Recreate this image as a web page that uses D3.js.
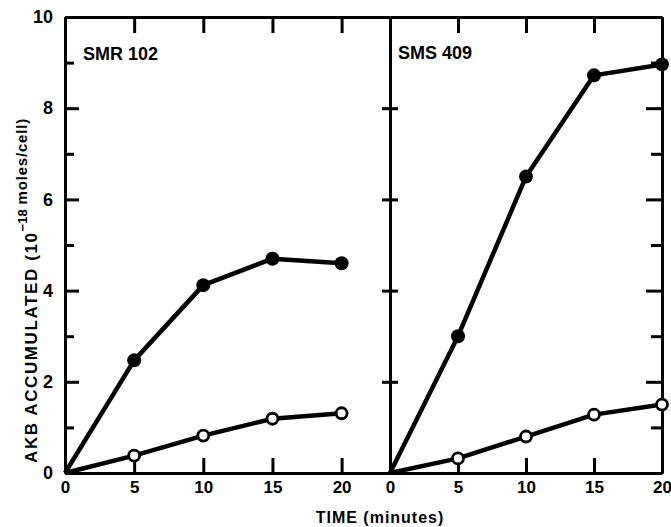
<!DOCTYPE html>
<html>
<head>
<meta charset="utf-8">
<script src="https://cdn.jsdelivr.net/npm/d3@7"></script>
<style>
  body { margin: 0; background: #fff; }
  text { font-family: "Liberation Sans", Arial, sans-serif; font-weight: bold; fill: #000; }
</style>
</head>
<body>
<script>
// data
const times = [0, 5, 10, 15, 20]
const smrFilled = [0, 2.47, 4.12, 4.7, 4.6]
const smrOpen = [0, 0.38, 0.82, 1.19, 1.31]
const smsFilled = [0, 3.0, 6.5, 8.72, 8.96]
const smsOpen = [0, 0.32, 0.8, 1.28, 1.5]
const yMajor = [0, 2, 4, 6, 8, 10]
const yMinor = [1, 3, 5, 7, 9]
const xTicks = [0, 5, 10, 15, 20]

const width = 671
const height = 527

const svg = d3.select('body')
    .append('svg')
    .attr('width', width)
    .attr('height', height)

const y = d3.scaleLinear()
    .domain([0, 10])
    .range([473, 17])

const xL = d3.scaleLinear()
    .domain([0, 23.5])
    .range([65, 390])

const xR = d3.scaleLinear()
    .domain([0, 20])
    .range([390, 662])

function styleAxis(g, size) {
    g.select('.domain').attr('stroke', '#000').attr('stroke-width', 3)
    g.selectAll('.tick line').attr('stroke', '#000').attr('stroke-width', 3)
    g.selectAll('.tick text')
        .style('font-size', (size || 17) + 'px')
        .attr('fill', '#000')
}

// ---- left panel frame ----
svg.append('g')
    .attr('transform', 'translate(65,0)')
    .call(d3.axisLeft(y).tickValues(yMajor).tickSizeInner(-14).tickSizeOuter(0).tickPadding(12).tickFormat(d3.format('d')))
    .call(g => styleAxis(g, 18))

svg.append('g')
    .attr('transform', 'translate(65,0)')
    .call(d3.axisLeft(y).tickValues(yMinor).tickSizeInner(-9).tickSizeOuter(0).tickFormat(''))
    .call(g => styleAxis(g))

svg.append('g')
    .attr('transform', 'translate(0,473)')
    .call(d3.axisBottom(xL).tickValues(xTicks).tickSizeInner(-15).tickSizeOuter(0).tickPadding(8).tickFormat(d3.format('d')))
    .call(g => styleAxis(g))

svg.append('g')
    .attr('transform', 'translate(0,17)')
    .call(d3.axisTop(xL).tickValues([5, 10, 15, 20]).tickSizeInner(-16).tickSizeOuter(0).tickFormat(''))
    .call(g => styleAxis(g))

// ---- right panel frame ----
svg.append('g')
    .attr('transform', 'translate(0,473)')
    .call(d3.axisBottom(xR).tickValues(xTicks).tickSizeInner(-15).tickSizeOuter(0).tickPadding(8).tickFormat(d3.format('d')))
    .call(g => styleAxis(g))

svg.append('g')
    .attr('transform', 'translate(0,17)')
    .call(d3.axisTop(xR).tickValues([5, 10, 15]).tickSizeInner(-16).tickSizeOuter(0).tickFormat(''))
    .call(g => styleAxis(g))

// shared divider: ticks cross both ways
svg.append('g')
    .attr('transform', 'translate(390,0)')
    .call(d3.axisLeft(y).tickValues([2, 4, 6, 8]).tickSizeInner(8).tickSizeOuter(0).tickFormat(''))
    .call(g => styleAxis(g))
svg.append('g')
    .attr('transform', 'translate(390,0)')
    .call(d3.axisLeft(y).tickValues([2, 4, 6, 8]).tickSizeInner(-8).tickSizeOuter(0).tickFormat(''))
    .call(g => styleAxis(g))

svg.append('g')
    .attr('transform', 'translate(662,0)')
    .call(d3.axisRight(y).tickValues([2, 4, 6, 8]).tickSizeInner(-16).tickSizeOuter(0).tickFormat(''))
    .call(g => styleAxis(g))
svg.append('g')
    .attr('transform', 'translate(662,0)')
    .call(d3.axisRight(y).tickValues(yMinor).tickSizeInner(-11).tickSizeOuter(0).tickFormat(''))
    .call(g => styleAxis(g))

// ---- data ----
const panels = [
    { name: 'SMR 102', x: xL, filled: smrFilled, open: smrOpen, lx: 83, ly: 60 },
    { name: 'SMS 409', x: xR, filled: smsFilled, open: smsOpen, lx: 398, ly: 59 }
]

panels.forEach(p => {
    const line = d3.line()
        .x((d, i) => p.x(times[i]))
        .y(d => y(d))

    ;[p.filled, p.open].forEach(vals => {
        svg.append('path')
            .datum(vals)
            .attr('d', line)
            .attr('fill', 'none')
            .attr('stroke', '#000')
            .attr('stroke-width', 4.5)
            .attr('stroke-linejoin', 'round')
    })

    svg.selectAll(null)
        .data(p.filled.slice(1))
        .join('circle')
        .attr('cx', (d, i) => p.x(times[i + 1]))
        .attr('cy', d => y(d))
        .attr('r', 7)
        .attr('fill', '#000')

    svg.selectAll(null)
        .data(p.open.slice(1))
        .join('circle')
        .attr('cx', (d, i) => p.x(times[i + 1]))
        .attr('cy', d => y(d))
        .attr('r', 5.5)
        .attr('fill', '#fff')
        .attr('stroke', '#000')
        .attr('stroke-width', 2.8)

    svg.append('text')
        .attr('x', p.lx)
        .attr('y', p.ly)
        .style('font-size', '18px')
        .text(p.name)
})

// ---- titles ----
svg.append('text')
    .attr('x', 380)
    .attr('y', 523)
    .attr('text-anchor', 'middle')
    .style('font-size', '16px')
    .style('letter-spacing', '1px')
    .text('TIME (minutes)')

const yTitle = svg.append('text')
    .attr('transform', 'translate(37,463) rotate(-90)')
    .style('font-size', '17px')
    .style('letter-spacing', '1.6px')
yTitle.append('tspan').text('AKB ACCUMULATED (10')
yTitle.append('tspan').attr('dy', -10).style('font-size', '13px').style('letter-spacing', '0px').text('\u221218')
yTitle.append('tspan').attr('dx', 5).attr('dy', 0).style('font-size', '15px').style('letter-spacing', '0.8px').text('moles/cell)')
</script>
</body>
</html>
